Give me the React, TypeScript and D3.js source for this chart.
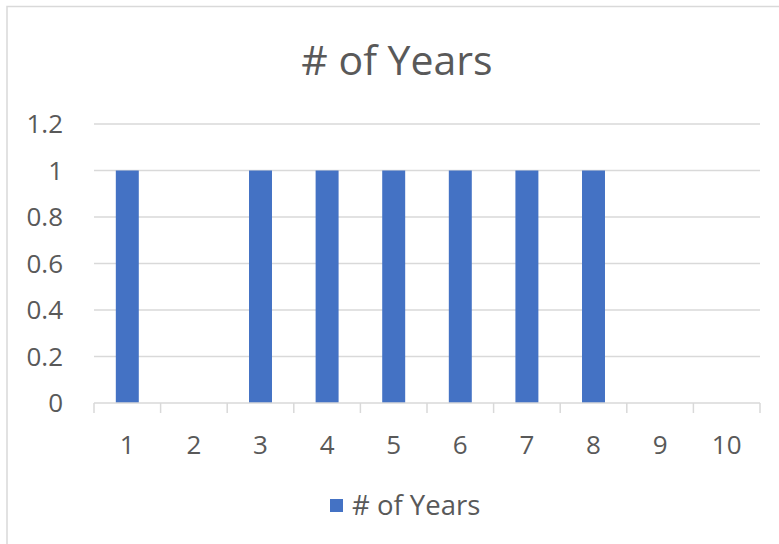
// @ts-nocheck
import { useRef, useEffect } from "react";
import * as d3 from "d3";

const categories = ["1", "2", "3", "4", "5", "6", "7", "8", "9", "10"];
const years = [1, 0, 1, 1, 1, 1, 1, 1, 0, 0];
const yTicks = [0, 0.2, 0.4, 0.6, 0.8, 1, 1.2];

const App = () => {
  const svgRef = useRef();
  const width = 779;
  const height = 544;

  useEffect(() => {
    const svg = d3.select(svgRef.current);
    svg.selectAll("*").remove();

    const margin = { top: 124, right: 19, bottom: 141, left: 94 };
    const chartWidth = width - margin.left - margin.right;
    const chartHeight = height - margin.top - margin.bottom;
    const font = "'Open Sans', 'Noto Sans', sans-serif";
    const textColor = "#595959";

    // chart area border
    svg
      .append("rect")
      .attr("x", 7)
      .attr("y", 6.5)
      .attr("width", width)
      .attr("height", height)
      .attr("fill", "white")
      .attr("stroke", "#d9d9d9")
      .attr("stroke-width", 1.5);

    svg
      .append("text")
      .attr("x", 397)
      .attr("y", 75)
      .attr("text-anchor", "middle")
      .attr("font-family", font)
      .attr("font-size", 41)
      .attr("fill", textColor)
      .text("# of Years");

    const x = d3.scaleBand().domain(categories).range([0, chartWidth]);
    const y = d3.scaleLinear().domain([0, 1.2]).range([chartHeight, 0]);

    const chart = svg
      .append("g")
      .attr("transform", `translate(${margin.left},${margin.top})`);

    // gridlines
    chart
      .selectAll(".grid")
      .data(yTicks.filter((d) => d > 0))
      .enter()
      .append("line")
      .attr("x1", 0)
      .attr("x2", chartWidth)
      .attr("y1", (d) => y(d))
      .attr("y2", (d) => y(d))
      .attr("stroke", "#d9d9d9")
      .attr("stroke-width", 1.5);

    // y labels
    chart
      .selectAll(".ylab")
      .data(yTicks)
      .enter()
      .append("text")
      .attr("x", -31)
      .attr("y", (d) => y(d) + 9)
      .attr("text-anchor", "end")
      .attr("font-family", font)
      .attr("font-size", 26)
      .attr("fill", textColor)
      .text((d) => String(d));

    const barW = x.bandwidth() * 0.345;
    chart
      .selectAll(".bar")
      .data(years.map((v, i) => ({ cat: categories[i], v })))
      .enter()
      .append("rect")
      .attr("x", (d) => x(d.cat) + (x.bandwidth() - barW) / 2)
      .attr("y", (d) => y(d.v))
      .attr("width", barW)
      .attr("height", (d) => chartHeight - y(d.v))
      .attr("fill", "#4472c4");

    // x axis line + ticks
    chart
      .append("line")
      .attr("x1", 0)
      .attr("x2", chartWidth)
      .attr("y1", chartHeight)
      .attr("y2", chartHeight)
      .attr("stroke", "#d9d9d9")
      .attr("stroke-width", 1.5);

    const edges = categories.map((c) => x(c)).concat([chartWidth]);
    chart
      .selectAll(".tick")
      .data(edges)
      .enter()
      .append("line")
      .attr("x1", (d) => d)
      .attr("x2", (d) => d)
      .attr("y1", chartHeight)
      .attr("y2", chartHeight + 10)
      .attr("stroke", "#d9d9d9")
      .attr("stroke-width", 1.5);

    chart
      .selectAll(".xlab")
      .data(categories)
      .enter()
      .append("text")
      .attr("x", (d) => x(d) + x.bandwidth() / 2)
      .attr("y", chartHeight + 51)
      .attr("text-anchor", "middle")
      .attr("font-family", font)
      .attr("font-size", 26)
      .attr("fill", textColor)
      .text((d) => d);

    // legend
    const legend = svg.append("g").attr("transform", "translate(330,499)");
    legend
      .append("rect")
      .attr("width", 13)
      .attr("height", 13)
      .attr("fill", "#4472c4");
    legend
      .append("text")
      .attr("x", 22)
      .attr("y", 16)
      .attr("font-family", font)
      .attr("font-size", 27.5)
      .attr("fill", textColor)
      .text("# of Years");
  }, []);

  return (
    <svg
      ref={svgRef}
      width={width}
      height={height}
      style={{ position: "absolute", left: 0, top: 0 }}
    ></svg>
  );
};

export default App;
